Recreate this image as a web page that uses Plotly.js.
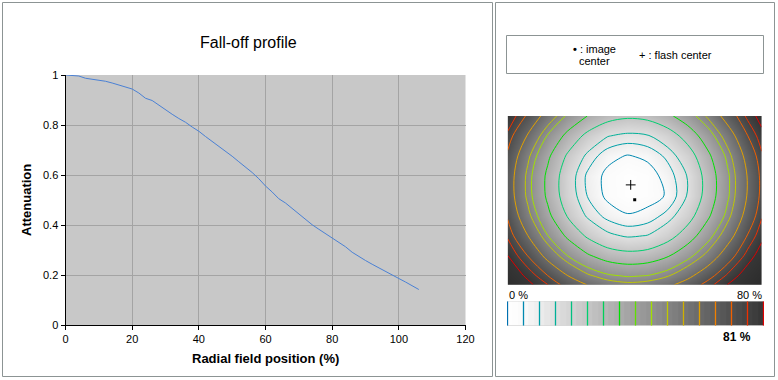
<!DOCTYPE html>
<html><head><meta charset="utf-8">
<script src="https://cdn.plot.ly/plotly-3.0.1.min.js"></script>
<style>html,body{margin:0;padding:0;background:#fff;}#chart{width:778px;height:380px;}</style>
</head><body><div id="chart"></div>
<script>
// ---- Fall-off profile (left chart) ----
const radialPos = [0,2,4,6,8,10,12,14,16,18,20,22,24,26,28,30,32,34,36,38,40,42,44,46,48,50,52,54,56,58,60,62,64,66,68,70,72,74,76,78,80,82,84,86,88,90,92,94,96,98,100,102,104,106];
const attenuation = [1.0,0.998,0.996,0.987,0.983,0.980,0.975,0.968,0.960,0.952,0.944,0.928,0.907,0.898,0.879,0.862,0.843,0.826,0.811,0.792,0.775,0.754,0.735,0.716,0.695,0.675,0.653,0.633,0.610,0.585,0.556,0.532,0.505,0.488,0.466,0.445,0.423,0.401,0.383,0.365,0.350,0.331,0.313,0.291,0.273,0.258,0.243,0.228,0.213,0.198,0.186,0.172,0.157,0.142];
const xTicks = [0,20,40,60,80,100,120];
const yTicks = [0,0.2,0.4,0.6,0.8,1];

// ---- Fall-off map (right), light loss in % on a coarse grid (image pixels) ----
const imgX = [0,20,40,60,80,100,120,140,160,180,200,220,240,254];
const imgY = [0,20,40,60,80,100,120,140,160,169];
const falloffGrid = [
  [79.5,68.8,55.3,43.6,34.8,29.0,26.6,27.9,32.8,40.7,51.2,64.7,76.5,82.6],
  [73.6,59.2,44.3,32.1,22.2,15.3,13.2,14.3,19.9,28.8,40.4,54.3,69.9,78.0],
  [68.6,51.7,36.8,23.6,13.3,6.8,4.6,6.3,11.3,20.1,32.7,47.0,63.7,74.1],
  [65.7,48.2,33.0,19.3,8.8,3.4,0.9,2.2,7.3,15.4,28.8,43.6,60.6,71.9],
  [65.8,48.3,33.2,19.5,9.7,3.6,1.1,2.5,5.6,15.6,28.9,43.8,60.8,72.0],
  [69.1,52.3,37.4,24.3,13.8,8.2,5.5,7.0,11.9,20.9,33.2,47.5,64.3,74.4],
  [74.1,60.2,45.2,33.1,23.4,16.6,14.1,15.3,21.1,29.9,41.4,55.3,70.5,78.5],
  [80.1,69.9,56.7,44.9,36.2,30.5,28.2,29.4,34.1,42.1,52.6,65.9,77.2,83.0],
  [85.4,78.6,70.1,60.1,51.3,46.2,44.2,45.2,49.3,57.2,66.9,76.1,83.5,88.1],
  [88.1,81.9,75.1,67.1,59.6,54.2,52.0,53.2,57.7,64.6,72.7,80.2,86.2,90.7]
];
const ringLevels = [5,10,15,25,35,45,50,60,70,75,80];
const flashCenter = {x:[123], y:[69]};
const imageCenter = {x:[127], y:[84]};

// ---- Scale strip ----
const barLevels = [0,5,10,15,20,25,30,35,40,45,50,55,60,65,70,75,80];
const barColors = ['#0070b0','#0088b0','#00a0a8','#00b098','#00c080','#00d070','#00d058','#00e000','#60e000','#a0e000','#c0c800','#d0b000','#e0a000','#f08000','#f06000','#f03000','#e00000'];
const barSteps = [0.8,2.5,4.2,5.8,7.5,9.2,10.8,12.5,14.2,15.8,17.5,19.2,20.8,22.5,24.2,25.8,27.5,29.2,30.8,32.5,34.2,35.8,37.5,39.2,40.8,42.5,44.2,45.8,47.5,49.2,50.8,52.5,54.2,55.8,57.5,59.2,60.8,62.5,64.2,65.8,67.5,69.2,70.8,72.5,74.2,75.8,77.5,79.2];
const maxFalloffLabel = '81 %';

// ---- helpers ----
const W = 778, H = 380;
const px = v => v / W;
const py = v => 1 - v / H;
const FONT = 'Liberation Sans, Arial, sans-serif';
const grayScale = [[0,'#ffffff'],[5/90,'#fafafa'],[80/90,'#363636'],[1,'#2c2c2c']];

const traces = [];
traces.push({
  type:'scatter', mode:'lines', x: radialPos, y: attenuation,
  line:{color:'#4a80d4', width:1}, xaxis:'x', yaxis:'y', hoverinfo:'skip'
});
traces.push({
  type:'heatmap', x: imgX, y: imgY, z: falloffGrid, zsmooth:'best',
  colorscale: grayScale, zmin:0, zmax:90, showscale:false,
  xaxis:'x2', yaxis:'y2', hoverinfo:'skip'
});
ringLevels.forEach(L => {
  traces.push({
    type:'contour', x: imgX, y: imgY, z: falloffGrid,
    autocontour:false, contours:{start:L, end:L, size:5, coloring:'none', showlabels:false},
    line:{color: barColors[barLevels.indexOf(L)], width:1, smoothing:0.9},
    showscale:false, xaxis:'x2', yaxis:'y2', hoverinfo:'skip'
  });
});
traces.push({
  type:'scatter', mode:'markers', x: flashCenter.x, y: flashCenter.y,
  marker:{symbol:'cross-thin-open', size:7, color:'#000', line:{color:'#000', width:1}},
  xaxis:'x2', yaxis:'y2', hoverinfo:'skip'
});
traces.push({
  type:'scatter', mode:'markers', x: imageCenter.x, y: imageCenter.y,
  marker:{symbol:'square', size:3, color:'#000', line:{width:0}},
  xaxis:'x2', yaxis:'y2', hoverinfo:'skip'
});
traces.push({
  type:'heatmap', x: barSteps, y:[0.5], z:[barSteps], zsmooth:false,
  colorscale: grayScale, zmin:0, zmax:90, showscale:false,
  xaxis:'x3', yaxis:'y3', hoverinfo:'skip'
});
barLevels.forEach((L, i) => {
  traces.push({
    type:'scatter', mode:'lines', x:[L, L], y:[0, 1],
    line:{color: barColors[i], width:1.3}, xaxis:'x3', yaxis:'y3', hoverinfo:'skip', cliponaxis:false
  });
});

const shapes = [
  {type:'rect', xref:'paper', yref:'paper', x0:px(2.5), x1:px(492.5), y0:py(2.5), y1:py(376.5), line:{color:'#8c9494', width:1}},
  {type:'rect', xref:'paper', yref:'paper', x0:px(495.5), x1:px(774.5), y0:py(2.5), y1:py(376.5), line:{color:'#8c9494', width:1}},
  {type:'rect', xref:'paper', yref:'paper', x0:px(506.5), x1:px(763.5), y0:py(35.5), y1:py(73.5), line:{color:'#8c9494', width:1}}
];

const ann = (text, x, y, opts={}) => Object.assign({
  text, x:px(x), y:py(y), xref:'paper', yref:'paper', showarrow:false,
  xanchor:'center', yanchor:'middle', font:{family:FONT, size:11, color:'#000'}
}, opts);

const annotations = [
  ann('Fall-off profile', 248, 42, {font:{family:FONT, size:16, color:'#000'}}),
  ann('<b>Attenuation</b>', 26, 200, {textangle:-90, font:{family:FONT, size:13, color:'#000'}}),
  ann('<b>Radial field position (%)</b>', 265.5, 358, {font:{family:FONT, size:13, color:'#000'}}),
  ann('<b>\u2022</b> : image', 594.5, 49),
  ann('center', 594.5, 61),
  ann('+ : flash center', 675.5, 55),
  ann('0 %', 507, 295, {xanchor:'left'}),
  ann('80 %', 764, 295, {xanchor:'right'}),
  ann('<b>' + maxFalloffLabel + '</b>', 737, 337, {font:{family:FONT, size:12, color:'#000'}})
];

const layout = {
  width:W, height:H, margin:{l:0,r:0,t:0,b:0}, showlegend:false,
  paper_bgcolor:'#fff', plot_bgcolor:'#c8c8c8',
  font:{family:FONT, size:11, color:'#000'},
  xaxis:{domain:[px(65.5), px(465.5)], range:[0,120], tickvals:xTicks, ticks:'outside', ticklen:4, tickcolor:'#000',
         showline:true, linecolor:'#000', linewidth:1, showgrid:true, gridcolor:'#a4a4a4', gridwidth:1, zeroline:false,
         tickfont:{family:FONT, size:11, color:'#000'}, anchor:'y', fixedrange:true},
  yaxis:{domain:[py(325), py(75)], range:[0,1], tickvals:yTicks, ticks:'outside', ticklen:4, tickcolor:'#000',
         showline:true, linecolor:'#000', linewidth:1, showgrid:true, gridcolor:'#a4a4a4', gridwidth:1, zeroline:false,
         tickfont:{family:FONT, size:11, color:'#000'}, anchor:'x', fixedrange:true},
  xaxis2:{domain:[px(507.7), px(761.7)], range:[0,254], visible:false, anchor:'y2', fixedrange:true},
  yaxis2:{domain:[py(284.7), py(116)], range:[169,0], visible:false, anchor:'x2', fixedrange:true},
  xaxis3:{domain:[px(507), px(764)], range:[-0.15625,80.15625], visible:false, anchor:'y3', fixedrange:true},
  yaxis3:{domain:[py(325.7), py(301.3)], range:[0,1], visible:false, anchor:'x3', fixedrange:true},
  shapes, annotations
};

Plotly.newPlot('chart', traces, layout, {displayModeBar:false, staticPlot:true});
</script>
</body></html>
